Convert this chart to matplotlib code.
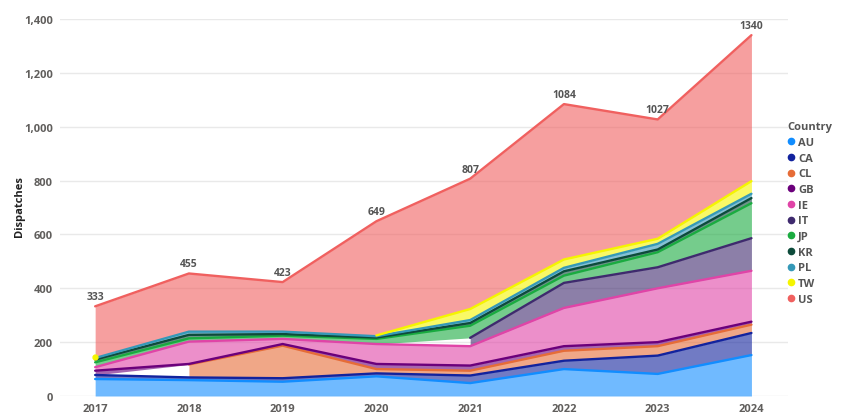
import numpy as np
import matplotlib
matplotlib.use("Agg")
import matplotlib.pyplot as plt
from matplotlib.lines import Line2D

plt.rcParams['font.family'] = ['Open Sans', 'DejaVu Sans']

# data (None = no dispatches recorded that year)
years = [2017, 2018, 2019, 2020, 2021, 2022, 2023, 2024]
countries = ["AU", "CA", "CL", "GB", "IE", "IT", "JP", "KR", "PL", "TW", "US"]

au = [63, 59, 53, 73, 48, 100, 82, 152]
ca = [15, 10, 13, 11, 28, 31, 68, 82]
cl = [None, 48, 121, 16, 18, 37, 35, 31]
gb = [16, 2, 6, 19, 19, 17, 15, 11]
ie = [13, 83, 19, 74, 72, 142, 200, 189]
it = [None, None, None, None, 31, 93, 78, 121]
jp = [18, 12, 12, 19, 45, 27, 56, 130]
kr = [10, 13, 6, 5, 10, 16, 10, 19]
pl = [6, 12, 9, 5, 11, 13, 21, 16]
tw = [2, None, None, 3, 41, 31, 19, 47]
us = [190, 216, 184, 424, 484, 577, 443, 542]

series = [au, ca, cl, gb, ie, it, jp, kr, pl, tw, us]
colors = ["#118DFF", "#12239E", "#E66C37", "#6B007B", "#E044A7", "#3F2A6E",
          "#1AAB40", "#0D4B3B", "#3599B8", "#F5F500", "#F0605F"]

x = np.arange(len(years))

fig = plt.figure(figsize=(8.5, 4.14), dpi=100)
ax = fig.add_axes([60/850, 17/414, 728/850, 377/414])

base = np.zeros(len(years))
tops = []
for vals, col in zip(series, colors):
    v = np.array([np.nan if a is None else a for a in vals], dtype=float)
    top = base + np.nan_to_num(v)
    ok = ~np.isnan(v)
    # contiguous runs of defined points
    runs = []
    start = None
    for i in range(len(years)):
        if ok[i] and start is None:
            start = i
        if (not ok[i] or i == len(years) - 1) and start is not None:
            end = i if ok[i] else i - 1
            runs.append((start, end))
            start = None
    tops.append((top.copy(), runs, col))
    for s, e in runs:
        if e > s:
            ax.fill_between(x[s:e+1], base[s:e+1], top[s:e+1], color=col,
                            alpha=0.6, lw=0, zorder=2)
    base = top

for top, runs, col in tops:
    for s, e in runs:
        if e > s:
            ax.plot(x[s:e+1], top[s:e+1], color=col, lw=1.7,
                    solid_capstyle='round', zorder=3)
        else:
            ax.plot(x[s], top[s], 'o', color=col, ms=3.5, zorder=3)

totals = base
for xi, t in zip(x, totals):
    ax.annotate(f"{int(round(t))}", (xi, t), xytext=(0, 3), textcoords='offset points',
                ha='center', va='bottom', fontsize=7.5, color='#555555',
                fontweight='bold', zorder=4)

ax.set_xlim(-0.375, len(years) - 1 + 0.39)
ax.set_ylim(0, 1400)
ax.set_xticks(x)
ax.set_xticklabels([str(y) for y in years])
ax.set_yticks(range(0, 1401, 200))
ax.set_yticklabels([f"{v:,}" for v in range(0, 1401, 200)])
ax.grid(axis='y', color='#E9E9E9', lw=1, zorder=0)
ax.set_axisbelow(True)
for sp in ax.spines.values():
    sp.set_visible(False)
ax.tick_params(length=0, labelsize=8, labelcolor='#605E5C', pad=5)
for lbl in ax.get_xticklabels() + ax.get_yticklabels():
    lbl.set_fontweight('bold')

fig.text(20/850, 0.5, "Dispatches", rotation=90, ha='center', va='center',
         fontsize=8, fontweight='bold', color='#222222')

handles = [Line2D([], [], marker='o', ls='', color=c, markersize=4.5) for c in colors]
leg = fig.legend(handles, countries, title="Country", loc='upper left',
                 bbox_to_anchor=(783/850, 1 - 118/414), frameon=False,
                 fontsize=8, title_fontsize=8, handlelength=0.6,
                 handletextpad=0.35, labelspacing=0.42, borderaxespad=0,
                 alignment='left')
leg.get_title().set_fontweight('bold')
leg.get_title().set_color('#555555')
for t in leg.get_texts():
    t.set_color('#555555')
    t.set_fontweight('bold')

fig.savefig("out.png", dpi=100)
